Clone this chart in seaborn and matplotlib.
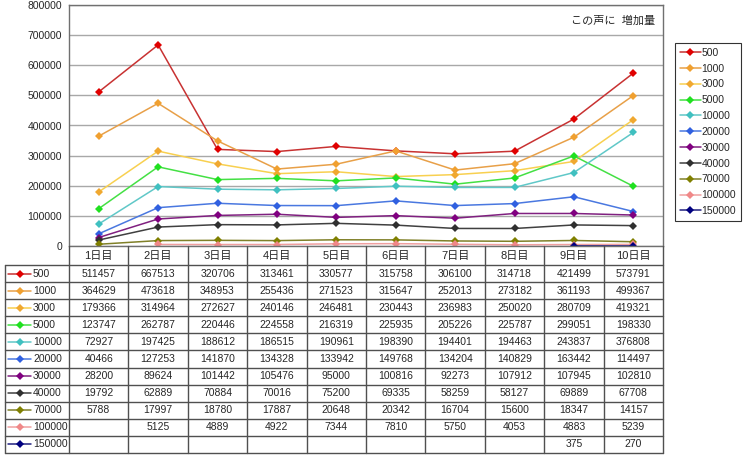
import matplotlib
matplotlib.use("Agg")
import matplotlib.pyplot as plt
import numpy as np
import pandas as pd
import seaborn as sns
from matplotlib.lines import Line2D

days = ["1日目", "2日目", "3日目", "4日目", "5日目", "6日目", "7日目", "8日目", "9日目", "10日目"]
names = ["500", "1000", "3000", "5000", "10000", "20000", "30000", "40000", "70000", "100000", "150000"]

v500 = [511457, 667513, 320706, 313461, 330577, 315758, 306100, 314718, 421499, 573791]
v1000 = [364629, 473618, 348953, 255436, 271523, 315647, 252013, 273182, 361193, 499367]
v3000 = [179366, 314964, 272627, 240146, 246481, 230443, 236983, 250020, 280709, 419321]
v5000 = [123747, 262787, 220446, 224558, 216319, 225935, 205226, 225787, 299051, 198330]
v10000 = [72927, 197425, 188612, 186515, 190961, 198390, 194401, 194463, 243837, 376808]
v20000 = [40466, 127253, 141870, 134328, 133942, 149768, 134204, 140829, 163442, 114497]
v30000 = [28200, 89624, 101442, 105476, 95000, 100816, 92273, 107912, 107945, 102810]
v40000 = [19792, 62889, 70884, 70016, 75200, 69335, 58259, 58127, 69889, 67708]
v70000 = [5788, 17997, 18780, 17887, 20648, 20342, 16704, 15600, 18347, 14157]
v100000 = [None, 5125, 4889, 4922, 7344, 7810, 5750, 4053, 4883, 5239]
v150000 = [None, None, None, None, None, None, None, None, 375, 270]

line_colors = ["#c83232", "#e8a048", "#f8d050", "#44e044", "#60c8c8", "#4a78e0",
               "#802080", "#404040", "#808028", "#f0a0a0", "#202080"]
marker_colors = ["#e00000", "#f0a030", "#f0a830", "#20e020", "#40c0c0", "#3060e0",
                 "#800080", "#303030", "#808000", "#f08888", "#000080"]

table = dict(zip(names, [v500, v1000, v3000, v5000, v10000, v20000, v30000,
                         v40000, v70000, v100000, v150000]))
rows = []
for name, vals in table.items():
    for i, v in enumerate(vals):
        if v is not None:
            rows.append({"series": name, "day": i, "value": v})
df = pd.DataFrame(rows)

sns.set_style("white")
plt.rcParams["font.family"] = ["Liberation Sans", "Noto Sans CJK JP"]

W, H = 750, 459
fig = plt.figure(figsize=(W / 100, H / 100), dpi=100)
ax = fig.add_axes([69 / W, 1 - 246 / H, (663 - 69) / W, (246 - 5) / H])

sns.lineplot(data=df, x="day", y="value", hue="series", hue_order=names,
             palette=line_colors, marker="D", markersize=4.5, linewidth=1.1,
             markeredgewidth=0, legend=False, ax=ax)
for line, mc in zip(ax.lines, marker_colors):
    line.set_markerfacecolor(mc)
    line.set_markeredgecolor(mc)

ax.set_xlim(-0.5, 9.5)
ax.set_ylim(0, 800000)
ax.set_yticks(np.arange(0, 800001, 100000))
ax.set_yticklabels([str(t) for t in range(0, 800001, 100000)], fontsize=7.5)
ax.tick_params(axis="y", length=0, pad=5)
ax.set_xticks([])
ax.set_xlabel("")
ax.set_ylabel("")
ax.grid(axis="y", color="#a8a8a8", linewidth=1)
ax.set_axisbelow(True)
for s in ax.spines.values():
    s.set_color("#707070")
    s.set_linewidth(1)
ax.text(0.987, 0.935, "この声に  増加量", transform=ax.transAxes,
        ha="right", va="center", fontsize=8)

# legend
handles = [Line2D([0], [0], color=lc, marker="D", markersize=4.2, markerfacecolor=mc,
                  markeredgewidth=0, linewidth=1.1)
           for lc, mc in zip(line_colors, marker_colors)]
leg = fig.legend(handles, names, loc="upper left", bbox_to_anchor=(675 / W, 1 - 43 / H),
                 fontsize=7.5, frameon=True, fancybox=False, handlelength=2.0,
                 handletextpad=0.1, labelspacing=0.56, borderpad=0.45, borderaxespad=0)
leg.get_frame().set_edgecolor("#000000")
leg.get_frame().set_linewidth(0.8)

# data table under the plot
col_w = (663 - 69) / 10
x_left = -0.5 - (69 - 5) / col_w
tab = fig.add_axes([5 / W, 1 - 453 / H, (663 - 5) / W, (453 - 246) / H])
tab.set_xlim(x_left, 9.5)
tab.set_ylim(207, 0)
tab.axis("off")
hh = 19
rh = (207 - hh) / 11
lc = "#505050"
for k in range(12):
    y = hh + k * rh
    tab.plot([x_left, 9.5], [y, y], color=lc, linewidth=1, clip_on=False)
tab.plot([x_left, x_left], [hh, 207], color=lc, linewidth=1, clip_on=False)
for j in range(11):
    x = -0.5 + j
    tab.plot([x, x], [0, 207], color=lc, linewidth=1, clip_on=False)
for i, d in enumerate(days):
    tab.text(i, hh / 2 + 0.5, d, ha="center", va="center", fontsize=8)
px = 1 / col_w
for k, name in enumerate(names):
    yc = hh + (k + 0.5) * rh
    tab.plot([x_left + 3 * px, x_left + 26 * px], [yc, yc], color=line_colors[k],
             linewidth=1.1, clip_on=False)
    tab.plot([x_left + 14.5 * px], [yc], marker="D", markersize=4.2, markeredgewidth=0,
             markerfacecolor=marker_colors[k], linestyle="none", clip_on=False)
    tab.text(x_left + 28 * px, yc, name, ha="left", va="center", fontsize=7.5)
    for i, v in enumerate(table[name]):
        if v is not None:
            tab.text(i, yc, str(v), ha="center", va="center", fontsize=7.5)

fig.savefig("out.png", dpi=100)
